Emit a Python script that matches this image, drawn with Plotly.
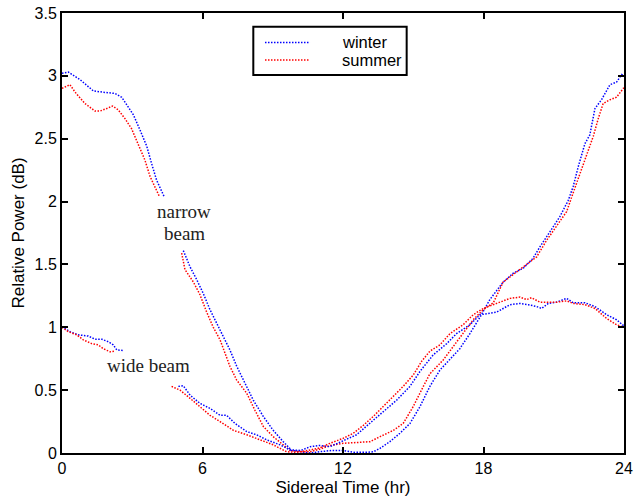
import plotly.graph_objects as go

# ---------------- data ----------------
narrow_winter_t = [0.0, 0.27, 0.77, 1.34, 1.76, 2.26, 2.55, 2.76, 3.05, 3.33, 3.62, 3.83, 4.04, 4.36,
                   None,
                   5.18, 5.47, 5.75, 6.03, 6.32, 6.61, 6.89, 7.17, 7.46, 7.81, 8.17, 8.60, 9.02, 9.45, 9.81,
                   10.2, 10.6, 11.0, 11.5, 12.0, 12.5, 13.0, 13.3, 13.58, 14.0, 14.43, 14.86, 15.29, 15.71,
                   16.14, 16.57, 16.99, 17.42, 17.85, 18.27, 18.84, 19.27, 19.70, 20.12, 20.41, 20.84,
                   21.26, 21.62, 21.83, 22.05, 22.33, 22.54, 22.76, 23.04, 23.40, 23.68, 23.90, 24.0]
narrow_winter_p = [3.02, 3.03, 2.97, 2.88, 2.87, 2.86, 2.83, 2.77, 2.69, 2.57, 2.44, 2.30, 2.17, 2.04,
                   None,
                   1.61, 1.48, 1.38, 1.27, 1.14, 1.03, 0.925, 0.82, 0.69, 0.555, 0.42, 0.29, 0.18, 0.09, 0.02,
                   0.01, 0.0, 0.01, 0.02, 0.02, 0.005, 0.005, 0.01, 0.037, 0.09, 0.157, 0.235, 0.37, 0.53,
                   0.66, 0.75, 0.83, 0.95, 1.08, 1.22, 1.36, 1.43, 1.47, 1.55, 1.64, 1.76,
                   1.88, 2.01, 2.12, 2.28, 2.46, 2.53, 2.74, 2.81, 2.93, 2.95, 3.01, 3.0]

narrow_summer_t = [0.0, 0.34, 0.56, 0.98, 1.41, 1.62, 1.91, 2.16, 2.40, 2.69, 2.97, 3.26, 3.54, 3.76, 3.97, 4.16,
                   None,
                   5.11, 5.25, 5.61, 5.89, 6.18, 6.46, 6.75, 7.17, 7.46, 7.89, 8.24, 8.60, 9.02, 9.45, 9.74,
                   10.2, 10.6, 11.0, 11.44, 12.01, 12.58, 13.15, 13.58, 14.15, 14.57, 15.0, 15.43, 15.71,
                   16.28, 16.71, 17.13, 17.56, 17.99, 18.42, 18.84, 19.41, 19.84, 20.27, 20.69, 21.12,
                   21.55, 21.83, 22.12, 22.40, 22.69, 22.90, 23.11, 23.40, 23.68, 23.97, 24.0]
narrow_summer_p = [2.90, 2.93, 2.87, 2.78, 2.72, 2.72, 2.74, 2.76, 2.73, 2.66, 2.58, 2.46, 2.33, 2.20, 2.11, 2.04,
                   None,
                   1.59, 1.46, 1.36, 1.26, 1.12, 1.00, 0.90, 0.69, 0.58, 0.475, 0.34, 0.21, 0.13, 0.06, 0.02,
                   0.01, 0.01, 0.03, 0.06, 0.077, 0.082, 0.09, 0.13, 0.18, 0.235, 0.37, 0.53, 0.63,
                   0.74, 0.845, 0.95, 1.06, 1.14, 1.195, 1.36, 1.44, 1.50, 1.56, 1.69, 1.80,
                   1.92, 2.07, 2.22, 2.38, 2.52, 2.66, 2.78, 2.81, 2.83, 2.90, 2.91]

wide_winter_t = [0.0, 0.34, 0.70, 1.12, 1.41, 1.70, 1.98, 2.19, 2.34, 2.62,
                 None,
                 4.97, 5.18, 5.47, 5.89, 6.32, 6.75, 7.03, 7.39, 7.89, 8.31, 8.74, 9.31, 9.74,
                 10.2, 10.6, 11.0, 11.44, 12.01, 12.58, 13.29, 13.72, 14.29, 14.86, 15.29, 15.85,
                 16.43, 16.85, 17.42, 17.85, 18.56, 19.13, 19.56, 19.91, 20.27, 20.48, 20.77, 21.12,
                 21.55, 21.83, 22.33, 22.76, 23.26, 23.68, 23.94, 24.0]
wide_winter_p = [1.005, 0.965, 0.94, 0.93, 0.905, 0.905, 0.885, 0.86, 0.82, 0.815,
                 None,
                 0.53, 0.535, 0.46, 0.395, 0.355, 0.30, 0.30, 0.235, 0.17, 0.145, 0.105, 0.065, 0.025,
                 0.02, 0.05, 0.06, 0.05, 0.10, 0.145, 0.26, 0.33, 0.42, 0.53, 0.65, 0.78,
                 0.87, 0.95, 1.02, 1.10, 1.12, 1.18, 1.19, 1.18, 1.165, 1.15, 1.19, 1.20,
                 1.23, 1.195, 1.195, 1.165, 1.10, 1.06, 1.02, 1.01]

wide_summer_t = [0.0, 0.27, 0.63, 0.91, 1.27, 1.55, 1.76, 2.05, 2.26,
                 None,
                 4.68, 5.04, 5.47, 5.89, 6.32, 6.75, 7.32, 7.89, 8.46, 9.02, 9.59,
                 10.0, 10.5, 11.0, 11.44, 12.01, 12.44, 12.87, 13.29, 13.72, 14.15, 14.57, 15.0,
                 15.36, 15.71, 16.14, 16.57, 17.13, 17.56, 17.99, 18.56, 19.13, 19.56, 19.84, 20.05,
                 20.41, 21.12, 21.55, 21.83, 22.33, 22.76, 23.26, 23.68, 23.94, 24.0]
wide_summer_p = [1.0, 0.965, 0.94, 0.90, 0.87, 0.86, 0.83, 0.805, 0.81,
                 None,
                 0.53, 0.50, 0.435, 0.37, 0.30, 0.25, 0.18, 0.145, 0.105, 0.065, 0.01,
                 0.005, 0.02, 0.04, 0.077, 0.117, 0.157, 0.22, 0.29, 0.37, 0.45, 0.53, 0.62,
                 0.73, 0.81, 0.86, 0.95, 1.02, 1.10, 1.15, 1.19, 1.23, 1.24, 1.22, 1.235,
                 1.20, 1.20, 1.21, 1.19, 1.18, 1.15, 1.07, 1.02, 1.005, 1.0]

x_ticks = [0, 6, 12, 18, 24]
y_ticks = [0, 0.5, 1, 1.5, 2, 2.5, 3, 3.5]
y_tick_labels = ["0", "0.5", "1", "1.5", "2", "2.5", "3", "3.5"]
legend_names = ["winter", "summer"]

BLUE = "#0000ff"
RED = "#ff0000"
DOT = "1.5px,1.5px"
SANS = "Liberation Sans, Arial, sans-serif"
SERIF = "Liberation Serif, Times New Roman, serif"

fig = go.Figure()
series = [
    (narrow_winter_t, narrow_winter_p, BLUE, "winter narrow beam"),
    (narrow_summer_t, narrow_summer_p, RED, "summer narrow beam"),
    (wide_winter_t, wide_winter_p, BLUE, "winter wide beam"),
    (wide_summer_t, wide_summer_p, RED, "summer wide beam"),
]
for t, p, c, name in series:
    fig.add_trace(go.Scatter(
        x=t, y=p, mode="lines", name=name, showlegend=False,
        connectgaps=False,
        line=dict(color=c, width=1.5, dash=DOT),
    ))

# curve labels
for txt, yy in (("narrow", 1.92), ("beam", 1.748)):
    fig.add_annotation(x=5.21, y=yy, xref="x", yref="y", text=txt, showarrow=False,
                       font=dict(family=SERIF, size=19, color="#222"))
fig.add_annotation(x=3.71, y=0.695, xref="x", yref="y", text="wide beam", showarrow=False,
                   font=dict(family=SERIF, size=19, color="#222"))

# legend box (drawn by hand to match the original layout)
fig.add_shape(type="rect", xref="paper", yref="paper", x0=0.3404, x1=0.6133, y0=0.859, y1=0.9689,
              line=dict(color="black", width=2), fillcolor="white", layer="above")
for (name, col, ly) in zip(legend_names, [BLUE, RED], [0.9330, 0.8930]):
    fig.add_shape(type="line", xref="paper", yref="paper", x0=0.3612, x1=0.4413, y0=ly, y1=ly,
                  line=dict(color=col, width=1.5, dash=DOT), layer="above")
    fig.add_annotation(x=0.4947, y=ly, xref="paper", yref="paper", text=name, showarrow=False,
                       xanchor="left", yanchor="middle",
                       font=dict(family=SANS, size=16.5, color="black"))

axis_common = dict(showline=True, linecolor="black", linewidth=2, mirror="ticks",
                   ticks="inside", ticklen=6, tickcolor="black", tickwidth=1.5,
                   showgrid=False, zeroline=False, automargin=False,
                   tickfont=dict(family=SANS, size=16, color="black"))

fig.update_layout(
    width=635, height=504,
    margin=dict(l=62, r=11, t=13, b=51, autoexpand=False),
    paper_bgcolor="white", plot_bgcolor="white",
    font=dict(family=SANS, size=16, color="black"),
    xaxis=dict(range=[0, 24], tickvals=x_ticks,
               title=dict(text="Sidereal Time (hr)", standoff=5,
                          font=dict(size=17)), **axis_common),
    yaxis=dict(range=[0, 3.5], tickvals=y_ticks, ticktext=y_tick_labels,
               title=dict(text="Relative Power (dB)", standoff=6,
                          font=dict(size=17)), **axis_common),
)

fig.write_html("out.html", config={"displayModeBar": False},
               post_script="document.body.style.margin='0';document.body.style.padding='0';")
